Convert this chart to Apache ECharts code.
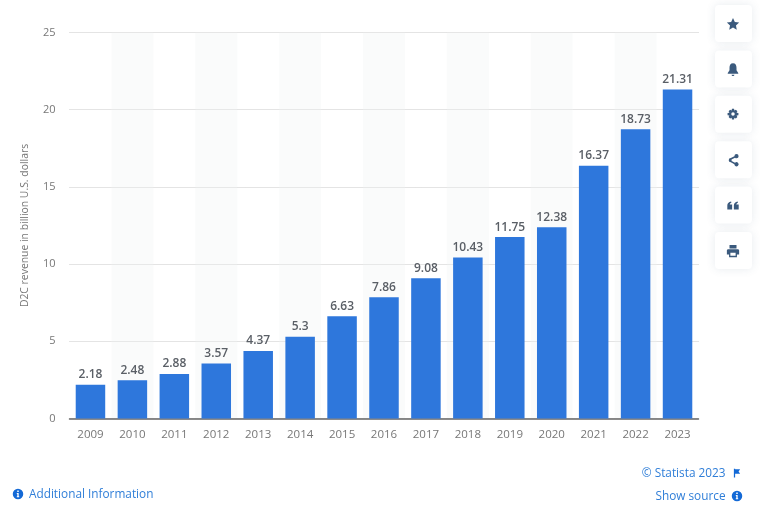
<!DOCTYPE html>
<html lang="en">
<head>
    <meta charset="UTF-8">
    <title>D2C revenue</title>
    <style>
        html, body { margin: 0; padding: 0; background: #fff; }
    </style>
</head>
<body>
<div id="main" style="width: 760px;height:520px;"></div>
<script src="https://cdn.jsdelivr.net/npm/echarts@6/dist/echarts.min.js"></script>
<script>
    var years = ['2009', '2010', '2011', '2012', '2013', '2014', '2015', '2016', '2017', '2018', '2019', '2020', '2021', '2022', '2023'];
    var revenue = [2.18, 2.48, 2.88, 3.57, 4.37, 5.3, 6.63, 7.86, 9.08, 10.43, 11.75, 12.38, 16.37, 18.73, 21.31];
    var yTicks = [0, 5, 10, 15, 20, 25];
    var fontName = '"Open Sans", sans-serif';
    var linkFont = '11.8px "Open Sans", sans-serif';
    var linkBlue = '#2f7ed8';
    var iconBlue = '#3b5a7d';

    //icons, drawn in a 16x16 box
    var iconPaths = {
        star: 'M8 1L10.1 5.6L15 6.2L11.4 9.6L12.3 14.6L8 12.1L3.7 14.6L4.6 9.6L1 6.2L5.9 5.6Z',
        bell: 'M8 1C10.8 1 12 3.4 12 6V9L14 12V13H2V12L4 9V6C4 3.4 5.2 1 8 1ZM6.4 14H9.6C9.6 15 8.9 15.6 8 15.6C7.1 15.6 6.4 15 6.4 14Z',
        gear: 'M6.8 1H9.2L9.6 3L11.3 2.2L13 3.9L12.1 5.6L14.2 6V8.4L12.1 8.8L13 10.5L11.3 12.2L9.6 11.4L9.2 13.4H6.8L6.4 11.4L4.7 12.2L3 10.5L3.9 8.8L1.8 8.4V6L3.9 5.6L3 3.9L4.7 2.2L6.4 3ZM8 5.2A2 2 0 1 0 8 9.2A2 2 0 1 0 8 5.2Z',
        share: 'M12 1A2.4 2.4 0 1 1 10.3 5.1L6.3 7.2A2.4 2.4 0 0 1 6.3 8.8L10.3 10.9A2.4 2.4 0 1 1 9.6 12.6L5.5 10.4A2.4 2.4 0 1 1 5.5 5.6L9.6 3.4A2.4 2.4 0 0 1 12 1Z',
        quote: 'M1.5 8C1.5 5.5 3 3.8 5.8 3.3L6.2 4.8C5 5.2 4.4 5.9 4.3 6.8H7V12.5H1.5ZM9 8C9 5.5 10.5 3.8 13.3 3.3L13.7 4.8C12.5 5.2 11.9 5.9 11.8 6.8H14.5V12.5H9Z',
        print: 'M4 1H12V5H4ZM2.5 6H13.5C14.3 6 15 6.7 15 7.5V12H12.5V15H3.5V12H1V7.5C1 6.7 1.7 6 2.5 6ZM5 10V13.5H11V10Z',
        info: 'M8 1A7 7 0 1 1 8 15A7 7 0 1 1 8 1ZM7 3.4V5.4H9V3.4ZM6.4 6.7V8H7.1V11H6.4V12.3H9.6V11H8.9V6.7Z',
        flag: 'M3 1H5V2H13L10.5 5.5L13 9H5V15H3Z'
    };
    //the graphic component has no plain path type, so register each one
    for (var key in iconPaths) {
        echarts.graphic.registerShape('icon_' + key, echarts.graphic.extendPath(iconPaths[key], {}));
    }

    function icon(name, x, y, size, color) {
        return {
            type: 'icon_' + name,
            x: x,
            y: y,
            scaleX: size / 16,
            scaleY: size / 16,
            style: {fill: color}
        };
    }

    var buttons = ['star', 'bell', 'gear', 'share', 'quote', 'print'];
    var graphics = [];
    for (var i = 0; i < buttons.length; i++) {
        var btnTop = 5 + i * 45.4;
        graphics.push({
            type: 'rect',
            shape: {x: 715, y: btnTop, width: 37, height: 37, r: 4},
            style: {fill: '#fff', shadowBlur: 10, shadowColor: 'rgba(60,90,125,0.12)'}
        });
        graphics.push(icon(buttons[i], 726, btnTop + 12, 14, iconBlue));
    }
    graphics.push(icon('info', 12, 488, 12, '#1369d6'));
    graphics.push({
        type: 'text', x: 29, y: 495,
        style: {text: 'Additional Information', fill: linkBlue, font: linkFont, verticalAlign: 'middle'}
    });
    graphics.push({
        type: 'text', x: 725.5, y: 473.5,
        style: {text: '© Statista 2023', fill: linkBlue, font: linkFont, align: 'right', verticalAlign: 'middle'}
    });
    graphics.push(icon('flag', 732, 468, 10, '#1369d6'));
    graphics.push({
        type: 'text', x: 725.5, y: 496.5,
        style: {text: 'Show source', fill: linkBlue, font: linkFont, align: 'right', verticalAlign: 'middle'}
    });
    graphics.push(icon('info', 731, 490, 12, '#1369d6'));

    var app = echarts.init(document.getElementById('main'), null, {renderer: 'canvas'});
    var option = {
        animation: false,
        textStyle: {fontFamily: fontName},
        grid: {left: 69.5, right: 61.5, top: 32.5, bottom: 101.5},
        xAxis: {
            type: 'category',
            data: years,
            axisTick: {show: false},
            axisLine: {lineStyle: {color: '#666', width: 1.5}},
            axisLabel: {color: '#777', fontSize: 11.5, margin: 10, fontFamily: fontName},
            //white bands stay see-through or they hide the grid lines
            splitArea: {show: true, areaStyle: {color: ['rgba(255,255,255,0)', 'rgba(240,243,243,0.3)']}}
        },
        yAxis: {
            type: 'value',
            min: 0,
            max: 25,
            interval: 5,
            name: 'D2C revenue in billion U.S. dollars',
            nameLocation: 'middle',
            nameGap: 39.5,
            nameMoveOverlap: false,
            nameTextStyle: {color: '#777', fontSize: 10.4, fontFamily: fontName},
            axisLine: {show: false},
            axisTick: {show: false},
            axisLabel: {
                color: '#777', fontSize: 11, margin: 14, padding: [2, 0, 0, 0], fontFamily: fontName,
                formatter: function (v) {
                    return yTicks.indexOf(v) > -1 ? String(v) : '';
                }
            },
            splitLine: {lineStyle: {color: '#c8c8c8', type: [1, 1], width: 1}}
        },
        series: [{
            type: 'bar',
            data: revenue,
            barWidth: 29.5,
            z: 3,
            itemStyle: {color: '#2e77dc'},
            label: {
                show: true,
                position: 'top',
                distance: 4,
                color: '#5a5f66',
                fontSize: 12,
                fontWeight: 600,
                fontFamily: fontName,
                formatter: function (p) {
                    return String(p.value);
                }
            }
        }],
        graphic: {elements: graphics}
    };
    app.setOption(option);
</script>
</body>
</html>
